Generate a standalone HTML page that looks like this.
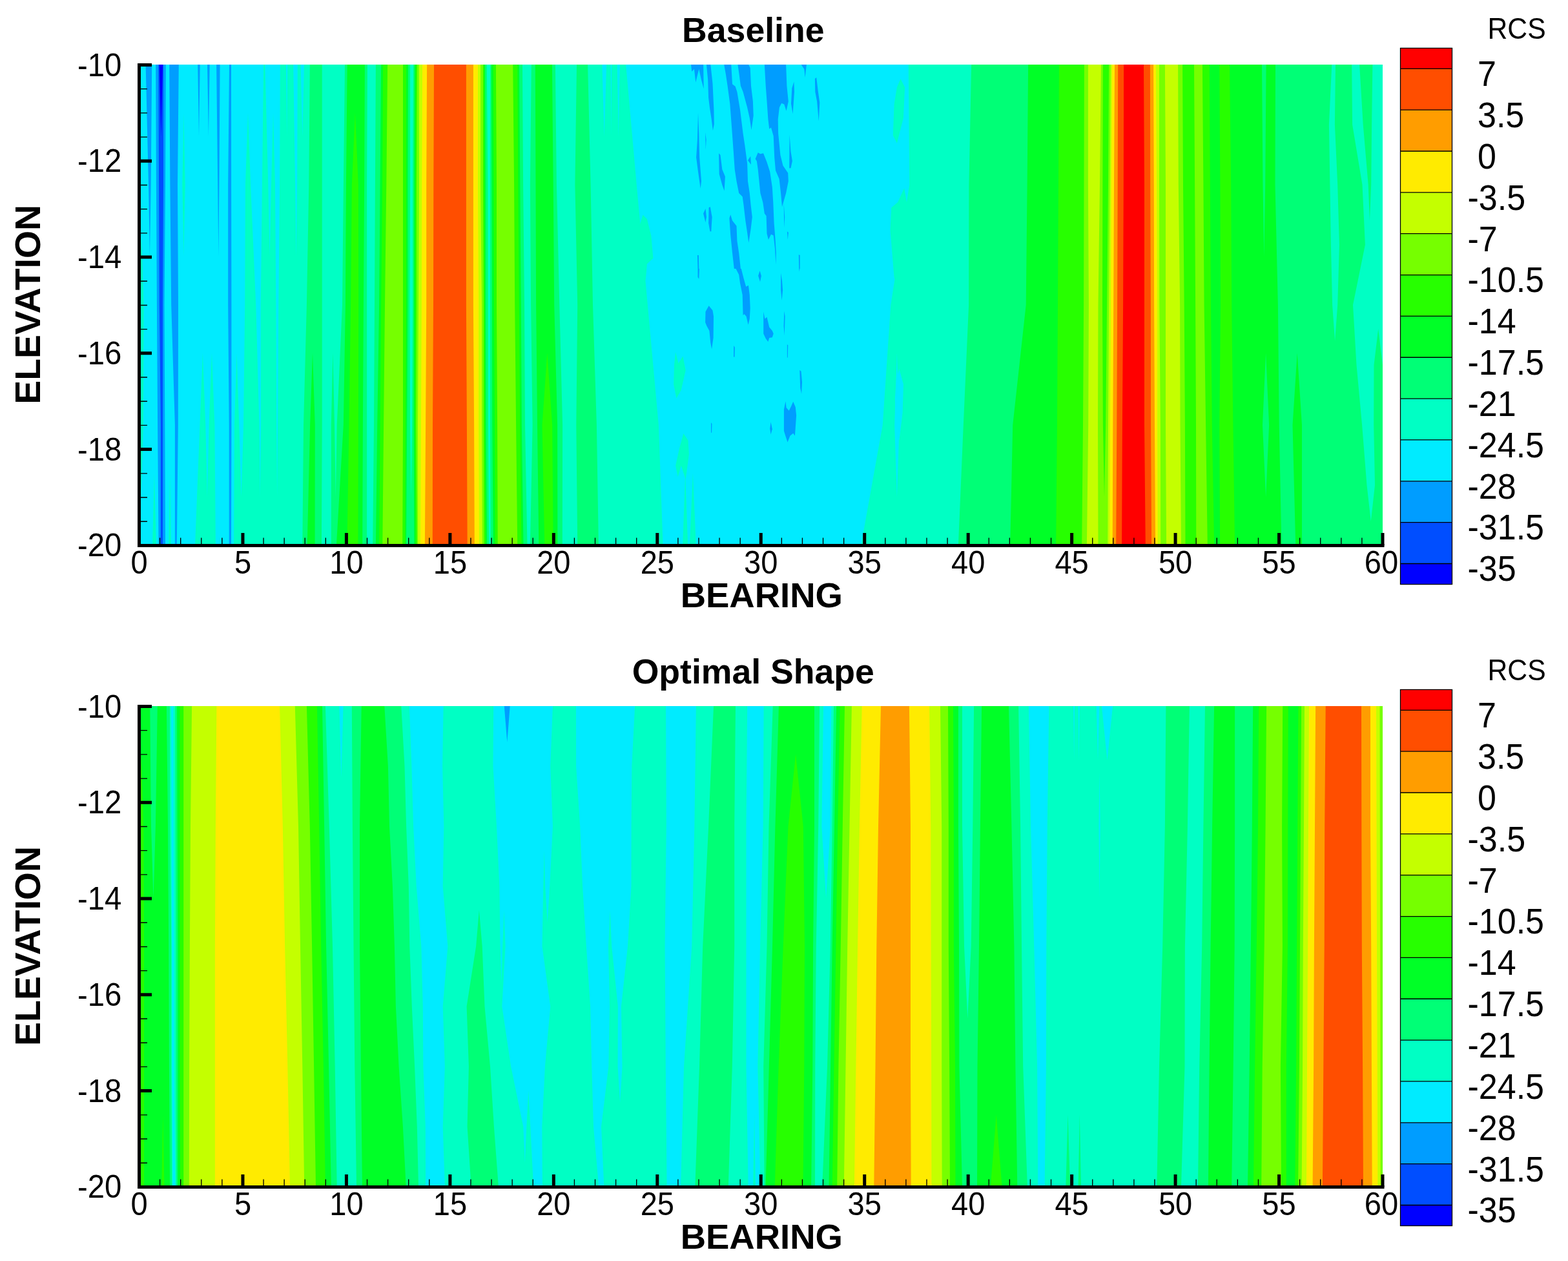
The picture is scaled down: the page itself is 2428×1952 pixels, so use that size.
<!DOCTYPE html>
<html lang="en"><head><meta charset="utf-8"><title>RCS contours: Baseline vs Optimal Shape</title>
<style>
html,body{margin:0;padding:0;background:#fff;}
body{width:2428px;height:1952px;overflow:hidden;}
svg{display:block;}
text{font-family:"Liberation Sans",sans-serif;fill:#000;}
.t{font-size:48.5px;}
.c{font-size:52px;}
.r{font-size:44px;}
.b{font-size:54.5px;font-weight:bold;}
.h{font-size:53.6px;font-weight:bold;}
.e{font-size:55.4px;font-weight:bold;}
</style></head><body>
<svg width="2428" height="1952" viewBox="0 0 2428 1952">
<rect width="2428" height="1952" fill="#fff"/>
<g id="plot1">
<clipPath id="cp0"><rect x="215.5" y="100.0" width="1925.5" height="744.4"/></clipPath>
<g clip-path="url(#cp0)">
<rect x="215.5" y="100.0" width="1925.5" height="744.4" fill="#00ebff"/>
<path fill="#00ffc4" d="M408.1,100.0L410.4,100.0L415.3,286.0L405.9,286.0ZM1406.7,100.0L2141.5,100.0L2141.5,286.0L1408.2,286.0ZM284.5,174.4L286.7,286.0L282.3,286.0ZM384.0,174.4L388.1,286.0L379.9,286.0ZM423.0,174.4L426.0,286.0L420.0,286.0ZM282.3,286.0L286.7,286.0L284.5,397.6ZM379.9,286.0L388.1,286.0L396.3,472.0L379.2,472.0ZM1408.2,286.0L2141.5,286.0L2141.5,472.0L1379.3,472.0ZM219.1,360.4L222.6,472.0L215.5,472.0ZM215.5,472.0L222.6,472.0L221.9,658.0L215.5,658.0ZM379.2,472.0L396.3,472.0L401.5,658.0L377.0,658.0ZM403.7,472.0L427.4,472.0L428.2,658.0L404.1,658.0ZM431.2,472.0L1002.9,472.0L1019.9,658.0L430.1,658.0ZM313.9,546.4L318.3,658.0L309.4,658.0ZM328.0,546.4L332.4,658.0L323.5,658.0ZM366.6,546.4L370.3,658.0L362.9,658.0ZM215.5,658.0L221.9,658.0L218.7,769.6ZM238.9,732.4L241.9,844.0L236.0,844.0ZM263.1,732.4L264.9,844.0L261.2,844.0ZM1061.1,732.4L1065.2,844.0L1057.1,844.0ZM1072.9,732.4L1077.8,844.0L1067.9,844.0Z"/>
<path fill="#00ffc4" fill-rule="evenodd" d="M433.8,100.0L454.2,100.0L457.1,286.0L433.1,286.0ZM443.0,100.0L445.3,100.0L444.1,211.6Z"/>
<path fill="#00ffc4" fill-rule="evenodd" d="M460.8,100.0L969.2,100.0L985.8,286.0L460.1,286.0ZM465.6,100.0L470.9,100.0L468.3,211.6ZM932.4,100.0L939.1,100.0L935.7,211.6ZM945.7,100.0L947.2,100.0L946.5,211.6ZM955.7,100.0L959.8,100.0L957.8,211.6Z"/>
<path fill="#00ffc4" fill-rule="evenodd" d="M405.9,286.0L426.0,286.0L427.4,472.0L403.7,472.0ZM415.3,286.0L420.0,286.0L417.6,397.6Z"/>
<path fill="#00ffc4" fill-rule="evenodd" d="M433.1,286.0L985.8,286.0L1002.9,472.0L431.2,472.0ZM457.1,286.0L460.1,286.0L458.6,397.6Z"/>
<path fill="#00ffc4" fill-rule="evenodd" d="M1379.3,472.0L2141.5,472.0L2141.5,658.0L1366.7,658.0ZM1385.2,658.0L1392.6,658.0L1388.9,546.4Z"/>
<path fill="#00ffc4" fill-rule="evenodd" d="M309.4,658.0L332.4,658.0L333.9,844.0L302.0,844.0ZM318.3,658.0L323.5,658.0L320.9,769.6Z"/>
<path fill="#00ffc4" fill-rule="evenodd" d="M362.9,658.0L1019.9,658.0L1026.6,844.0L362.1,844.0ZM370.3,658.0L377.0,658.0L373.6,769.6ZM401.5,658.0L404.1,658.0L402.8,769.6ZM428.2,658.0L430.1,658.0L429.1,769.6Z"/>
<path fill="#00ffc4" fill-rule="evenodd" d="M1366.7,658.0L2141.5,658.0L2141.5,844.0L1333.3,844.0ZM1385.2,658.0L1392.6,658.0L1388.9,769.6Z"/>
<path fill="#00ff76" d="M479.8,100.0L498.7,100.0L498.7,286.0L478.3,286.0ZM534.0,100.0L568.9,100.0L568.1,286.0L531.9,286.0ZM581.9,100.0L635.1,100.0L635.1,286.0L580.9,286.0ZM640.1,100.0L753.8,100.0L755.3,286.0L639.1,286.0ZM759.3,100.0L809.0,100.0L810.1,286.0L759.0,286.0ZM822.8,100.0L859.9,100.0L861.9,286.0L820.9,286.0ZM893.0,100.0L910.1,100.0L914.6,286.0L890.4,286.0ZM1504.1,100.0L2062.3,100.0L2059.4,286.0L1500.4,286.0ZM478.3,286.0L498.7,286.0L498.7,472.0L474.9,472.0ZM531.9,286.0L568.1,286.0L568.1,472.0L530.0,472.0ZM580.9,286.0L635.1,286.0L634.3,472.0L580.0,472.0ZM639.1,286.0L755.3,286.0L755.6,472.0L639.1,472.0ZM759.0,286.0L810.1,286.0L812.0,472.0L759.0,472.0ZM820.9,286.0L861.9,286.0L866.3,472.0L822.1,472.0ZM890.4,286.0L914.6,286.0L918.0,472.0L894.2,472.0ZM1500.4,286.0L2059.4,286.0L2063.1,472.0L1500.1,472.0ZM2071.2,286.0L2109.5,286.0L2095.0,472.0L2071.2,472.0ZM2118.7,286.0L2123.2,286.0L2120.9,397.6ZM474.9,472.0L498.7,472.0L498.7,658.0L470.0,658.0ZM530.0,472.0L568.1,472.0L568.1,658.0L521.7,658.0ZM580.0,472.0L634.3,472.0L635.1,658.0L579.0,658.0ZM639.1,472.0L755.6,472.0L756.0,658.0L638.1,658.0ZM759.0,472.0L812.0,472.0L813.0,658.0L759.0,658.0ZM822.1,472.0L866.3,472.0L871.1,658.0L824.6,658.0ZM894.2,472.0L918.0,472.0L923.9,658.0L892.3,658.0ZM515.4,546.4L518.0,658.0L512.8,658.0ZM2134.3,546.4L2141.5,658.0L2127.2,658.0ZM470.0,658.0L498.7,658.0L497.9,844.0L468.3,844.0ZM759.0,658.0L813.0,658.0L816.5,844.0L759.8,844.0ZM824.6,658.0L871.1,658.0L870.8,844.0L820.9,844.0ZM892.3,658.0L923.9,658.0L926.9,844.0L894.2,844.0Z"/>
<path fill="#00ff76" fill-rule="evenodd" d="M2068.0,100.0L2125.4,100.0L2123.2,286.0L2071.2,286.0ZM2093.2,100.0L2105.1,100.0L2099.1,183.7ZM2109.5,286.0L2118.7,286.0L2114.1,202.3Z"/>
<path fill="#00ff76" fill-rule="evenodd" d="M1500.1,472.0L2095.0,472.0L2109.1,658.0L1491.8,658.0ZM2063.1,472.0L2071.2,472.0L2067.1,583.6Z"/>
<path fill="#00ff76" fill-rule="evenodd" d="M512.8,658.0L568.1,658.0L568.1,844.0L512.8,844.0ZM518.0,658.0L521.7,658.0L519.8,769.6Z"/>
<path fill="#00ff76" fill-rule="evenodd" d="M579.0,658.0L756.0,658.0L757.1,844.0L577.2,844.0ZM635.1,658.0L638.1,658.0L636.6,769.6Z"/>
<path fill="#00ff76" fill-rule="evenodd" d="M1491.8,658.0L2141.5,658.0L2141.5,844.0L1483.9,844.0ZM2109.1,658.0L2127.2,658.0L2118.1,769.6Z"/>
<path fill="#00ff27" d="M537.7,100.0L564.9,100.0L564.1,286.0L535.9,286.0ZM590.1,100.0L632.1,100.0L631.4,286.0L588.6,286.0ZM642.1,100.0L751.2,100.0L751.9,286.0L641.3,286.0ZM760.8,100.0L804.0,100.0L805.3,286.0L761.5,286.0ZM828.8,100.0L854.9,100.0L856.7,286.0L829.5,286.0ZM1592.1,100.0L1954.0,100.0L1955.5,286.0L1590.6,286.0ZM1960.6,100.0L1975.0,100.0L1974.5,286.0L1959.2,286.0ZM535.9,286.0L564.1,286.0L562.9,472.0L534.9,472.0ZM588.6,286.0L631.4,286.0L631.4,472.0L587.1,472.0ZM641.3,286.0L751.9,286.0L751.9,472.0L641.0,472.0ZM761.5,286.0L805.3,286.0L806.8,472.0L762.0,472.0ZM829.5,286.0L856.7,286.0L858.2,472.0L830.1,472.0ZM534.9,472.0L562.9,472.0L561.9,658.0L531.8,658.0ZM587.1,472.0L631.4,472.0L630.2,658.0L584.2,658.0ZM641.0,472.0L751.9,472.0L752.6,658.0L640.6,658.0ZM762.0,472.0L806.8,472.0L807.8,658.0L762.3,658.0ZM830.1,472.0L858.2,472.0L863.1,658.0L832.0,658.0ZM484.0,546.4L487.8,658.0L480.1,658.0ZM2008.7,546.4L2016.0,658.0L2001.5,658.0ZM480.1,658.0L487.8,658.0L487.6,844.0L475.7,844.0ZM531.8,658.0L561.9,658.0L561.2,844.0L520.9,844.0ZM584.2,658.0L630.2,658.0L629.1,844.0L581.9,844.0ZM640.6,658.0L752.6,658.0L754.1,844.0L641.3,844.0ZM762.3,658.0L807.8,658.0L810.5,844.0L763.8,844.0ZM832.0,658.0L863.1,658.0L863.4,844.0L834.3,844.0ZM2001.5,658.0L2016.0,658.0L2016.0,844.0L2006.2,844.0Z"/>
<path fill="#00ff27" fill-rule="evenodd" d="M1590.6,286.0L1974.5,286.0L1978.9,472.0L1588.7,472.0ZM1955.5,286.0L1959.2,286.0L1957.3,397.6Z"/>
<path fill="#00ff27" fill-rule="evenodd" d="M1588.7,472.0L1978.9,472.0L1980.7,658.0L1568.2,658.0ZM1955.0,658.0L1965.1,658.0L1960.1,546.4Z"/>
<path fill="#00ff27" fill-rule="evenodd" d="M1568.2,658.0L1980.7,658.0L1984.4,844.0L1564.2,844.0ZM1955.0,658.0L1965.1,658.0L1960.1,769.6Z"/>
<path fill="#27ff00" d="M593.1,100.0L629.1,100.0L629.1,286.0L592.0,286.0ZM644.0,100.0L749.7,100.0L750.0,286.0L643.1,286.0ZM763.8,100.0L801.3,100.0L802.4,286.0L764.5,286.0ZM1639.9,100.0L1872.8,100.0L1873.8,286.0L1638.9,286.0ZM1888.2,100.0L1904.0,100.0L1906.2,286.0L1889.4,286.0ZM549.9,174.4L554.9,286.0L544.8,286.0ZM544.8,286.0L554.9,286.0L555.2,472.0L543.1,472.0ZM592.0,286.0L629.1,286.0L629.1,472.0L590.1,472.0ZM643.1,286.0L750.0,286.0L750.4,472.0L642.8,472.0ZM764.5,286.0L802.4,286.0L803.8,472.0L765.0,472.0ZM1638.9,286.0L1873.8,286.0L1875.0,472.0L1638.0,472.0ZM1889.4,286.0L1906.2,286.0L1907.2,472.0L1890.1,472.0ZM543.1,472.0L555.2,472.0L554.9,658.0L540.4,658.0ZM590.1,472.0L629.1,472.0L628.0,658.0L588.6,658.0ZM642.8,472.0L750.4,472.0L750.7,658.0L642.4,658.0ZM765.0,472.0L803.8,472.0L805.3,658.0L766.0,658.0ZM1638.0,472.0L1875.0,472.0L1876.8,658.0L1636.9,658.0ZM1890.1,472.0L1907.2,472.0L1909.4,658.0L1888.2,658.0ZM847.3,546.4L855.2,658.0L839.5,658.0ZM540.4,658.0L554.9,658.0L554.5,844.0L537.4,844.0ZM588.6,658.0L628.0,658.0L627.2,844.0L587.1,844.0ZM642.4,658.0L750.7,658.0L751.9,844.0L643.5,844.0ZM766.0,658.0L805.3,658.0L807.6,844.0L766.7,844.0ZM839.5,658.0L855.2,658.0L856.7,844.0L843.2,844.0ZM1636.9,658.0L1876.8,658.0L1880.1,844.0L1635.2,844.0ZM1888.2,658.0L1909.4,658.0L1912.1,844.0L1889.1,844.0Z"/>
<path fill="#76ff00" d="M600.1,100.0L624.0,100.0L624.0,286.0L598.3,286.0ZM646.1,100.0L747.9,100.0L747.9,286.0L645.0,286.0ZM767.9,100.0L794.2,100.0L796.1,286.0L769.0,286.0ZM1678.9,100.0L1707.9,100.0L1707.4,286.0L1678.5,286.0ZM1717.1,100.0L1831.1,100.0L1832.0,286.0L1716.0,286.0ZM1849.0,100.0L1861.9,100.0L1863.4,286.0L1850.1,286.0ZM598.3,286.0L624.0,286.0L624.0,472.0L596.0,472.0ZM645.0,286.0L747.9,286.0L748.9,472.0L645.0,472.0ZM769.0,286.0L796.1,286.0L797.2,472.0L769.0,472.0ZM1678.5,286.0L1707.4,286.0L1707.0,472.0L1678.1,472.0ZM1716.0,286.0L1832.0,286.0L1833.7,472.0L1714.1,472.0ZM1850.1,286.0L1863.4,286.0L1864.6,472.0L1851.1,472.0ZM596.0,472.0L624.0,472.0L624.0,658.0L594.1,658.0ZM645.0,472.0L748.9,472.0L748.9,658.0L644.3,658.0ZM769.0,472.0L797.2,472.0L799.1,658.0L770.1,658.0ZM1678.1,472.0L1707.0,472.0L1707.9,658.0L1677.0,658.0ZM1714.1,472.0L1833.7,472.0L1834.9,658.0L1712.2,658.0ZM1851.1,472.0L1864.6,472.0L1867.1,658.0L1852.0,658.0ZM594.1,658.0L624.0,658.0L623.2,844.0L592.3,844.0ZM644.3,658.0L748.9,658.0L749.7,844.0L645.8,844.0ZM770.1,658.0L799.1,658.0L801.2,844.0L770.7,844.0ZM1852.0,658.0L1867.1,658.0L1869.8,844.0L1852.3,844.0Z"/>
<path fill="#76ff00" fill-rule="evenodd" d="M1677.0,658.0L1834.9,658.0L1835.5,844.0L1675.2,844.0ZM1707.9,658.0L1712.2,658.0L1710.0,769.6Z"/>
<path fill="#c4ff00" d="M649.0,100.0L744.0,100.0L744.0,286.0L649.0,286.0ZM1684.9,100.0L1704.9,100.0L1703.0,286.0L1684.9,286.0ZM1719.8,100.0L1795.0,100.0L1795.0,286.0L1718.6,286.0ZM1803.9,100.0L1824.1,100.0L1824.8,286.0L1805.0,286.0ZM649.0,286.0L744.0,286.0L746.0,472.0L648.0,472.0ZM1684.9,286.0L1703.0,286.0L1700.5,472.0L1685.9,472.0ZM1718.6,286.0L1795.0,286.0L1795.3,472.0L1717.1,472.0ZM1805.0,286.0L1824.8,286.0L1827.1,472.0L1805.0,472.0ZM648.0,472.0L746.0,472.0L746.0,658.0L647.0,658.0ZM1685.9,472.0L1700.5,472.0L1700.0,658.0L1685.2,658.0ZM1717.1,472.0L1795.3,472.0L1796.9,658.0L1716.0,658.0ZM1805.0,472.0L1827.1,472.0L1827.5,658.0L1805.0,658.0ZM647.0,658.0L746.0,658.0L746.7,844.0L647.3,844.0ZM1685.2,658.0L1700.0,658.0L1700.5,844.0L1682.9,844.0ZM1716.0,658.0L1796.9,658.0L1797.2,844.0L1715.3,844.0ZM1805.0,658.0L1827.5,658.0L1829.0,844.0L1806.1,844.0Z"/>
<path fill="#ffeb00" d="M654.1,100.0L740.0,100.0L740.0,286.0L653.2,286.0ZM1722.0,100.0L1789.8,100.0L1791.0,286.0L1720.8,286.0ZM653.2,286.0L740.0,286.0L741.1,472.0L652.9,472.0ZM1720.8,286.0L1791.0,286.0L1792.0,472.0L1720.1,472.0ZM652.9,472.0L741.1,472.0L741.1,658.0L652.0,658.0ZM1720.1,472.0L1792.0,472.0L1792.0,658.0L1719.0,658.0ZM652.0,658.0L741.1,658.0L741.9,844.0L651.0,844.0ZM1719.0,658.0L1792.0,658.0L1792.8,844.0L1718.3,844.0Z"/>
<path fill="#ff9d00" d="M661.1,100.0L732.9,100.0L732.9,286.0L660.2,286.0ZM1726.0,100.0L1786.1,100.0L1786.8,286.0L1725.0,286.0ZM660.2,286.0L732.9,286.0L732.9,472.0L660.2,472.0ZM1725.0,286.0L1786.8,286.0L1787.1,472.0L1724.2,472.0ZM660.2,472.0L732.9,472.0L734.1,658.0L659.1,658.0ZM1724.2,472.0L1787.1,472.0L1788.0,658.0L1723.3,658.0ZM659.1,658.0L734.1,658.0L734.8,844.0L657.9,844.0ZM1723.3,658.0L1788.0,658.0L1789.1,844.0L1722.7,844.0Z"/>
<path fill="#ff4e00" d="M672.0,100.0L721.9,100.0L721.9,286.0L671.3,286.0ZM1731.2,100.0L1780.9,100.0L1781.2,286.0L1730.7,286.0ZM671.3,286.0L721.9,286.0L721.9,472.0L671.0,472.0ZM1730.7,286.0L1781.2,286.0L1781.9,472.0L1730.1,472.0ZM671.0,472.0L721.9,472.0L722.9,658.0L670.0,658.0ZM1730.1,472.0L1781.9,472.0L1782.1,658.0L1729.3,658.0ZM670.0,658.0L722.9,658.0L723.7,844.0L669.8,844.0ZM1729.3,658.0L1782.1,658.0L1783.1,844.0L1728.2,844.0Z"/>
<path fill="#ff0000" d="M1740.1,100.0L1771.0,100.0L1772.0,286.0L1739.8,286.0ZM1739.8,286.0L1772.0,286.0L1772.0,472.0L1739.1,472.0ZM1739.1,472.0L1772.0,472.0L1772.0,658.0L1737.9,658.0ZM1737.9,658.0L1772.0,658.0L1773.8,844.0L1737.1,844.0Z"/>
<path fill="#009dff" d="M225.6,100.0L235.2,100.0L233.7,286.0L230.0,286.0ZM241.2,100.0L256.8,100.0L256.0,286.0L241.9,286.0ZM262.2,100.0L276.8,100.0L275.0,286.0L263.4,286.0ZM306.2,100.0L309.7,100.0L308.0,211.6ZM321.0,100.0L324.7,100.0L322.9,211.6ZM335.1,100.0L340.6,100.0L339.4,286.0L337.2,286.0ZM355.0,100.0L358.0,100.0L358.1,286.0L353.2,286.0ZM230.0,286.0L233.7,286.0L231.9,397.6ZM241.9,286.0L256.0,286.0L254.5,472.0L242.9,472.0ZM263.4,286.0L275.0,286.0L276.0,472.0L265.2,472.0ZM337.2,286.0L339.4,286.0L338.3,397.6ZM353.2,286.0L358.1,286.0L358.4,472.0L353.2,472.0ZM242.9,472.0L254.5,472.0L255.3,658.0L244.1,658.0ZM265.2,472.0L276.0,472.0L275.8,658.0L270.9,658.0ZM353.2,472.0L358.4,472.0L358.4,658.0L354.7,658.0ZM244.1,658.0L255.3,658.0L256.0,844.0L245.6,844.0ZM270.9,658.0L275.8,658.0L273.8,844.0L270.9,844.0ZM354.7,658.0L358.4,658.0L358.0,844.0L354.7,844.0Z"/>
<path fill="#004eff" d="M245.3,100.0L253.0,100.0L253.0,286.0L246.1,286.0ZM246.1,286.0L253.0,286.0L252.0,472.0L246.8,472.0ZM246.8,472.0L252.0,472.0L252.0,658.0L248.9,658.0ZM248.9,658.0L252.0,658.0L252.0,844.0L248.9,844.0Z"/>
<path fill="#0000ff" d="M246.8,100.0L252.0,100.0L249.4,211.6Z"/>
<clipPath id="sg0_0"><rect x="2040" y="100.0" width="101.0" height="744.4"/></clipPath>
<g clip-path="url(#sg0_0)">
<rect x="2040" y="100.0" width="101.0" height="744.4" fill="#00ebff"/>
<path fill="#00ffc4" d="M2040.0,100.0L2141.0,100.0L2141.0,193.0L2040.0,193.0ZM2040.0,193.0L2141.0,193.0L2141.0,286.0L2040.0,286.0ZM2040.0,286.0L2141.0,286.0L2141.0,379.0L2040.0,379.0ZM2040.0,379.0L2141.0,379.0L2141.0,472.0L2040.0,472.0ZM2040.0,472.0L2141.0,472.0L2141.0,565.0L2040.0,565.0ZM2040.0,565.0L2141.0,565.0L2141.0,658.0L2040.0,658.0ZM2040.0,658.0L2141.0,658.0L2141.0,751.0L2040.0,751.0ZM2040.0,751.0L2141.0,751.0L2141.0,844.0L2040.0,844.0Z"/>
<path fill="#00ff76" d="M2040.0,100.0L2062.3,100.0L2057.9,193.0L2040.0,193.0ZM2068.0,100.0L2093.2,100.0L2094.1,193.0L2066.9,193.0ZM2105.1,100.0L2125.4,100.0L2124.1,193.0L2110.7,193.0ZM2040.0,193.0L2057.9,193.0L2059.4,286.0L2040.0,286.0ZM2066.9,193.0L2094.1,193.0L2109.5,286.0L2071.2,286.0ZM2110.7,193.0L2124.1,193.0L2123.2,286.0L2118.7,286.0ZM2040.0,286.0L2059.4,286.0L2060.9,379.0L2040.0,379.0ZM2071.2,286.0L2109.5,286.0L2113.9,379.0L2073.9,379.0ZM2118.7,286.0L2123.2,286.0L2120.9,341.8ZM2040.0,379.0L2060.9,379.0L2063.1,472.0L2040.0,472.0ZM2073.9,379.0L2113.9,379.0L2095.0,472.0L2071.2,472.0ZM2134.2,509.2L2141.0,565.0L2127.5,565.0ZM2040.0,565.0L2100.5,565.0L2109.1,658.0L2040.0,658.0ZM2127.5,565.0L2141.0,565.0L2141.0,658.0L2127.2,658.0ZM2040.0,658.0L2109.1,658.0L2116.5,751.0L2040.0,751.0ZM2127.2,658.0L2141.0,658.0L2141.0,751.0L2129.0,751.0Z"/>
<path fill="#00ff76" fill-rule="evenodd" d="M2040.0,472.0L2095.0,472.0L2100.5,565.0L2040.0,565.0ZM2063.1,472.0L2071.2,472.0L2067.1,527.8Z"/>
<path fill="#00ff76" fill-rule="evenodd" d="M2040.0,751.0L2141.0,751.0L2141.0,844.0L2040.0,844.0ZM2116.5,751.0L2129.0,751.0L2122.8,806.8Z"/>
</g>
<path fill="#009dff" d="M1069.9,99.3L1089.1,99.3L1089.7,137.5L1086.0,123.7L1082.3,107.1L1079.5,118.2L1077.3,127.4L1074.9,107.1L1071.2,110.8Z"/>
<path fill="#009dff" d="M1093.9,99.3L1100.2,99.3L1103.5,129.2L1105.4,169.8L1105.8,192.0L1103.9,202.2L1101.7,184.6L1098.9,166.2L1097.1,151.4L1096.2,123.7Z"/>
<path fill="#009dff" d="M1121.1,99.3L1123.8,114.5L1126.6,132.9L1130.3,160.6L1133.1,197.5L1135.8,234.5L1137.7,262.2L1140.5,280.6L1144.2,299.1L1149.7,304.6L1151.5,317.5L1154.3,341.5L1157.1,360.0L1159.3,375.7L1162.6,354.5L1164.8,336.0L1162.6,317.5L1160.8,299.1L1158.0,280.6L1157.1,252.9L1153.4,225.2L1150.6,206.8L1146.0,169.8L1141.4,142.2L1138.6,133.8L1134.0,130.2L1132.2,99.3Z"/>
<path fill="#009dff" d="M1142.3,99.3L1158.9,99.3L1161.7,105.2L1163.0,132.9L1165.9,156.9L1166.7,179.1L1163.5,201.2L1160.8,182.8L1157.1,166.2L1150.6,142.2L1146.9,132.9L1144.5,114.5Z"/>
<path fill="#009dff" d="M1183.8,99.3L1217.1,99.3L1218.4,132.9L1220.8,156.9L1217.6,171.7L1214.3,161.5L1210.2,159.7L1206.9,166.2L1204.7,184.6L1205.1,206.8L1208.4,240.0L1212.5,256.6L1220.2,267.7L1220.8,280.6L1217.1,299.1L1213.4,312.0L1211.0,320.3L1209.1,299.1L1206.6,276.9L1201.0,264.0L1199.2,243.7L1197.7,210.5L1194.0,197.5L1191.2,199.4L1189.4,184.6L1187.5,156.9L1185.7,132.9Z"/>
<path fill="#009dff" d="M1173.7,236.3L1177.4,238.2L1182.0,237.2L1187.5,251.1L1192.2,265.8L1195.8,289.8L1197.3,313.8L1198.6,345.2L1200.5,369.2L1201.8,391.4L1201.4,409.8L1199.9,384.0L1197.7,364.6L1194.0,362.8L1189.9,371.1L1187.5,361.8L1186.6,334.2L1183.8,330.5L1181.4,313.8L1177.4,299.1L1173.7,262.2L1171.8,249.2L1169.6,245.9Z"/>
<path fill="#009dff" d="M1131.2,332.3L1134.0,341.5L1140.5,349.8L1141.4,372.9L1144.2,391.4L1146.9,415.9L1136.8,415.9L1134.0,391.4L1131.2,363.7L1129.4,337.8Z"/>
<path fill="#009dff" d="M1113.1,237.2L1115.5,240.0L1118.3,262.2L1122.9,273.2L1121.6,295.4L1118.3,286.2L1113.7,269.5Z"/>
<path fill="#009dff" d="M1081.0,174.5L1082.3,206.8L1083.2,243.7L1086.0,280.6L1084.7,291.7L1080.5,262.2L1078.1,243.7L1079.9,216.0Z"/>
<path fill="#009dff" d="M1097.6,321.2L1099.8,320.3L1102.6,336.0L1101.3,358.2L1099.5,358.2L1097.1,345.2Z"/>
<path fill="#009dff" d="M1089.1,330.5L1092.5,323.1L1093.9,336.0L1092.5,344.3Z"/>
<path fill="#009dff" d="M1158.0,248.3L1162.2,241.8L1163.0,254.8Z"/>
<path fill="#009dff" d="M1229.4,126.5L1230.0,142.2L1227.6,176.3L1225.0,160.6L1226.3,136.6Z"/>
<path fill="#009dff" d="M1222.6,208.6L1224.5,234.5L1226.9,249.2L1224.5,260.3L1222.2,260.3Z"/>
<path fill="#009dff" d="M1261.9,121.8L1264.2,120.0L1266.9,142.2L1269.3,158.8L1267.8,187.4L1265.1,156.9L1262.3,142.2Z"/>
<path fill="#009dff" d="M1240.2,99.3L1249.0,99.3L1246.6,120.0L1245.3,107.1Z"/>
<path fill="#009dff" d="M1092.1,204.9L1093.6,216.0L1092.8,231.7Z"/>
<path fill="#009dff" d="M1213.6,313.8L1215.2,336.0L1214.3,352.6Z"/>
<path fill="#009dff" d="M1079.9,395.1L1081.8,395.1L1082.3,415.9L1080.5,415.9Z"/>
<path fill="#009dff" d="M1236.8,394.2L1238.7,395.1L1238.7,415.9L1237.2,415.9Z"/>
<path fill="#009dff" d="M1218.9,358.2L1220.8,360.0L1219.8,371.1Z"/>
<path fill="#009dff" d="M1139.5,416.0L1147.8,416.0L1151.5,430.8L1155.2,443.7L1158.9,441.8L1160.8,456.6L1161.7,476.9L1160.8,493.5L1158.6,502.8L1155.6,489.8L1152.5,486.2L1150.6,488.0L1149.7,456.6L1146.0,438.2L1144.2,425.2Z"/>
<path fill="#009dff" d="M1097.6,473.2L1103.5,480.6L1105.0,489.8L1104.6,523.1L1102.1,540.6L1100.2,530.5L1098.4,512.0L1094.3,504.6L1092.1,499.1L1092.5,482.5Z"/>
<path fill="#009dff" d="M1182.2,482.5L1184.4,493.5L1187.5,490.8L1191.2,506.5L1195.8,512.0L1197.7,516.6L1195.8,522.2L1191.2,523.1L1189.4,529.0L1185.7,524.0L1182.2,516.6Z"/>
<path fill="#009dff" d="M1216.5,621.3L1217.6,631.1L1221.7,635.7L1225.4,628.3L1228.2,621.8L1231.8,630.2L1233.1,643.1L1230.9,674.5L1228.2,670.8L1223.5,674.5L1219.5,684.6L1216.2,674.5L1213.9,667.1L1213.9,633.8Z"/>
<path fill="#009dff" d="M1209.1,422.5L1211.0,434.5L1212.1,449.2L1210.6,464.9L1209.1,449.2Z"/>
<path fill="#009dff" d="M1176.5,419.3L1178.9,427.1L1177.0,436.3L1174.1,427.1Z"/>
<path fill="#009dff" d="M1080.5,416.0L1082.9,416.0L1082.3,431.7L1080.5,428.9Z"/>
<path fill="#009dff" d="M1214.3,481.5L1215.6,489.8L1214.7,519.4L1213.6,504.6Z"/>
<path fill="#009dff" d="M1238.3,572.9L1240.5,574.8L1242.0,591.4L1241.1,609.5L1239.2,600.6Z"/>
<path fill="#009dff" d="M1136.2,535.1L1137.9,537.8L1137.5,552.6L1136.0,552.6Z"/>
<path fill="#009dff" d="M1218.9,533.2L1220.2,534.2L1219.8,553.5L1218.9,553.5Z"/>
<path fill="#009dff" d="M1193.6,653.2L1195.8,664.3L1193.6,672.6L1192.2,663.4Z"/>
<path fill="#009dff" d="M1101.0,654.2L1102.4,656.0L1102.1,669.8L1101.0,669.8Z"/>
<path fill="#009dff" d="M1237.2,416.0L1238.3,416.0L1237.9,420.6Z"/>
<path fill="#00ffc4" d="M995.4,332.5L1001.9,339.0L1008.4,365.0L1011.4,399.7L1001.9,408.4L999.7,434.4L993.2,417.1L989.7,378.0L991.0,347.7Z"/>
<path fill="#00ffc4" d="M1046.1,545.1L1050.5,562.4L1057.4,551.6L1061.7,573.3L1054.8,603.7L1047.4,616.7L1043.1,595.0L1044.0,564.6Z"/>
<path fill="#00ffc4" d="M1058.3,670.9L1065.6,681.8L1066.9,703.5L1061.7,742.5L1054.8,720.8L1049.6,738.2L1046.1,720.8L1051.8,694.8Z"/>
<path fill="#00ffc4" d="M1394.5,122.0L1401.1,135.1L1398.9,182.8L1388.9,221.8L1382.8,209.7L1384.6,161.1L1388.9,135.1Z"/>
<path fill="#00ffc4" d="M1400.2,291.3L1405.4,321.6L1401.9,349.8L1397.6,399.7L1392.4,447.5L1384.6,430.1L1378.5,356.3L1380.2,321.6L1390.2,312.9Z"/>
<path fill="#00ebff" d="M1392.4,571.1L1398.9,595.0L1397.6,638.4L1392.4,681.8L1387.2,660.1L1385.9,616.7L1388.0,586.3Z"/>
</g>
<path d="M215.5,98.0V846.9" stroke="#000" stroke-width="5" fill="none"/>
<path d="M213.0,844.4H2143.5" stroke="#000" stroke-width="5" fill="none"/>
<path d="M215.5,100.50h19.5M215.5,249.28h19.5M215.5,398.06h19.5M215.5,546.84h19.5M215.5,695.62h19.5M215.5,844.40h19.5M215.50,844.4v-19.5M375.96,844.4v-19.5M536.42,844.4v-19.5M696.88,844.4v-19.5M857.33,844.4v-19.5M1017.79,844.4v-19.5M1178.25,844.4v-19.5M1338.71,844.4v-19.5M1499.17,844.4v-19.5M1659.62,844.4v-19.5M1820.08,844.4v-19.5M1980.54,844.4v-19.5M2141.00,844.4v-19.5" stroke="#000" stroke-width="5" fill="none"/>
<path d="M215.5,137.69h12.5M215.5,174.89h12.5M215.5,212.08h12.5M215.5,286.48h12.5M215.5,323.67h12.5M215.5,360.87h12.5M215.5,435.25h12.5M215.5,472.45h12.5M215.5,509.64h12.5M215.5,584.03h12.5M215.5,621.23h12.5M215.5,658.42h12.5M215.5,732.81h12.5M215.5,770.01h12.5M215.5,807.21h12.5M247.59,844.4v-12M279.68,844.4v-12M311.77,844.4v-12M343.87,844.4v-12M408.05,844.4v-12M440.14,844.4v-12M472.23,844.4v-12M504.32,844.4v-12M568.51,844.4v-12M600.60,844.4v-12M632.69,844.4v-12M664.78,844.4v-12M728.97,844.4v-12M761.06,844.4v-12M793.15,844.4v-12M825.24,844.4v-12M889.42,844.4v-12M921.52,844.4v-12M953.61,844.4v-12M985.70,844.4v-12M1049.88,844.4v-12M1081.97,844.4v-12M1114.07,844.4v-12M1146.16,844.4v-12M1210.34,844.4v-12M1242.43,844.4v-12M1274.53,844.4v-12M1306.62,844.4v-12M1370.80,844.4v-12M1402.89,844.4v-12M1434.98,844.4v-12M1467.08,844.4v-12M1531.26,844.4v-12M1563.35,844.4v-12M1595.44,844.4v-12M1627.53,844.4v-12M1691.72,844.4v-12M1723.81,844.4v-12M1755.90,844.4v-12M1787.99,844.4v-12M1852.17,844.4v-12M1884.27,844.4v-12M1916.36,844.4v-12M1948.45,844.4v-12M2012.63,844.4v-12M2044.72,844.4v-12M2076.82,844.4v-12M2108.91,844.4v-12" stroke="#000" stroke-width="1.35" fill="none"/>
<text class="t" transform="translate(188.3,117.5) scale(0.975,1.04)" text-anchor="end">-10</text>
<text class="t" transform="translate(188.3,266.3) scale(0.975,1.04)" text-anchor="end">-12</text>
<text class="t" transform="translate(188.3,415.1) scale(0.975,1.04)" text-anchor="end">-14</text>
<text class="t" transform="translate(188.3,563.8) scale(0.975,1.04)" text-anchor="end">-16</text>
<text class="t" transform="translate(188.3,712.6) scale(0.975,1.04)" text-anchor="end">-18</text>
<text class="t" transform="translate(188.3,861.4) scale(0.975,1.04)" text-anchor="end">-20</text>
<text class="t" transform="translate(215.5,887.8) scale(0.97,1.04)" text-anchor="middle">0</text>
<text class="t" transform="translate(376.0,887.8) scale(0.97,1.04)" text-anchor="middle">5</text>
<text class="t" transform="translate(536.4,887.8) scale(0.97,1.04)" text-anchor="middle">10</text>
<text class="t" transform="translate(696.9,887.8) scale(0.97,1.04)" text-anchor="middle">15</text>
<text class="t" transform="translate(857.3,887.8) scale(0.97,1.04)" text-anchor="middle">20</text>
<text class="t" transform="translate(1017.8,887.8) scale(0.97,1.04)" text-anchor="middle">25</text>
<text class="t" transform="translate(1178.2,887.8) scale(0.97,1.04)" text-anchor="middle">30</text>
<text class="t" transform="translate(1338.7,887.8) scale(0.97,1.04)" text-anchor="middle">35</text>
<text class="t" transform="translate(1499.2,887.8) scale(0.97,1.04)" text-anchor="middle">40</text>
<text class="t" transform="translate(1659.6,887.8) scale(0.97,1.04)" text-anchor="middle">45</text>
<text class="t" transform="translate(1820.1,887.8) scale(0.97,1.04)" text-anchor="middle">50</text>
<text class="t" transform="translate(1980.5,887.8) scale(0.97,1.04)" text-anchor="middle">55</text>
<text class="t" transform="translate(2139.0,887.8) scale(0.97,1.04)" text-anchor="middle">60</text>
<text class="b" transform="translate(1179.3,940.2) scale(1.0,1.0)" text-anchor="middle">BEARING</text>
<text class="e" transform="translate(62.3,471.4) rotate(-90)" text-anchor="middle">ELEVATION</text>
<text class="h" transform="translate(1166.3,65.3) scale(1.0,1.0)" text-anchor="middle">Baseline</text>
<rect x="2168.5" y="74.50" width="80.0" height="31.80" fill="#ff0000"/>
<rect x="2168.5" y="106.30" width="80.0" height="63.85" fill="#ff4e00"/>
<rect x="2168.5" y="170.15" width="80.0" height="63.85" fill="#ff9d00"/>
<rect x="2168.5" y="234.00" width="80.0" height="63.85" fill="#ffeb00"/>
<rect x="2168.5" y="297.85" width="80.0" height="63.85" fill="#c4ff00"/>
<rect x="2168.5" y="361.70" width="80.0" height="63.85" fill="#76ff00"/>
<rect x="2168.5" y="425.55" width="80.0" height="63.85" fill="#27ff00"/>
<rect x="2168.5" y="489.40" width="80.0" height="63.85" fill="#00ff27"/>
<rect x="2168.5" y="553.25" width="80.0" height="63.85" fill="#00ff76"/>
<rect x="2168.5" y="617.10" width="80.0" height="63.85" fill="#00ffc4"/>
<rect x="2168.5" y="680.95" width="80.0" height="63.85" fill="#00ebff"/>
<rect x="2168.5" y="744.80" width="80.0" height="63.85" fill="#009dff"/>
<rect x="2168.5" y="808.65" width="80.0" height="63.85" fill="#004eff"/>
<rect x="2168.5" y="872.50" width="80.0" height="32.00" fill="#0000ff"/>
<path d="M2168.5,106.30H2248.5M2168.5,170.15H2248.5M2168.5,234.00H2248.5M2168.5,297.85H2248.5M2168.5,361.70H2248.5M2168.5,425.55H2248.5M2168.5,489.40H2248.5M2168.5,553.25H2248.5M2168.5,617.10H2248.5M2168.5,680.95H2248.5M2168.5,744.80H2248.5M2168.5,808.65H2248.5M2168.5,872.50H2248.5" stroke="#000" stroke-width="1.3" fill="none"/>
<rect x="2168.5" y="74.50" width="80.0" height="830.00" fill="none" stroke="#000" stroke-width="1.3"/>
<text class="c" transform="translate(2288.0,133.1) scale(1.0,1.05)" text-anchor="start">7</text>
<text class="c" transform="translate(2288.0,197.0) scale(1.0,1.05)" text-anchor="start">3.5</text>
<text class="c" transform="translate(2288.0,260.8) scale(1.0,1.05)" text-anchor="start">0</text>
<text class="c" transform="translate(2272.5,324.7) scale(1.0,1.05)" text-anchor="start">-3.5</text>
<text class="c" transform="translate(2272.5,388.5) scale(1.0,1.05)" text-anchor="start">-7</text>
<text class="c" transform="translate(2272.5,452.4) scale(1.0,1.05)" text-anchor="start">-10.5</text>
<text class="c" transform="translate(2272.5,516.2) scale(1.0,1.05)" text-anchor="start">-14</text>
<text class="c" transform="translate(2272.5,580.0) scale(1.0,1.05)" text-anchor="start">-17.5</text>
<text class="c" transform="translate(2272.5,643.9) scale(1.0,1.05)" text-anchor="start">-21</text>
<text class="c" transform="translate(2272.5,707.7) scale(1.0,1.05)" text-anchor="start">-24.5</text>
<text class="c" transform="translate(2272.5,771.6) scale(1.0,1.05)" text-anchor="start">-28</text>
<text class="c" transform="translate(2272.5,835.4) scale(1.0,1.05)" text-anchor="start">-31.5</text>
<text class="c" transform="translate(2272.5,899.3) scale(1.0,1.05)" text-anchor="start">-35</text>
<text class="r" transform="translate(2303.5,59.9) scale(0.97,1.05)" text-anchor="start">RCS</text>
</g>
<g id="plot2">
<clipPath id="cp1"><rect x="215.5" y="1093.0" width="1925.5" height="744.4000000000001"/></clipPath>
<g clip-path="url(#cp1)">
<rect x="215.5" y="1093.0" width="1925.5" height="744.4000000000001" fill="#00ebff"/>
<path fill="#00ffc4" d="M215.5,1093.0L265.2,1093.0L265.7,1279.0L215.5,1279.0ZM686.6,1093.0L764.2,1093.0L769.0,1279.0L687.3,1279.0ZM855.9,1093.0L892.0,1093.0L898.2,1279.0L855.9,1279.0ZM983.1,1093.0L1031.1,1093.0L1031.8,1279.0L977.6,1279.0ZM1077.8,1093.0L1157.2,1093.0L1155.5,1279.0L1075.3,1279.0ZM1182.6,1093.0L1275.1,1093.0L1272.4,1279.0L1181.6,1279.0ZM1287.3,1093.0L1592.9,1093.0L1596.1,1279.0L1285.8,1279.0ZM215.5,1279.0L265.7,1279.0L266.4,1465.0L215.5,1465.0ZM268.6,1279.0L640.1,1279.0L652.4,1465.0L269.4,1465.0ZM687.3,1279.0L769.0,1279.0L774.6,1465.0L693.3,1465.0ZM855.9,1279.0L898.2,1279.0L907.9,1465.0L839.5,1465.0ZM977.6,1279.0L1031.8,1279.0L1029.6,1465.0L972.0,1465.0ZM1075.3,1279.0L1155.5,1279.0L1155.5,1465.0L1071.2,1465.0ZM780.4,1353.4L782.6,1465.0L778.2,1465.0ZM944.6,1353.4L947.2,1465.0L942.0,1465.0ZM215.5,1465.0L266.4,1465.0L266.4,1651.0L215.5,1651.0ZM269.4,1465.0L652.4,1465.0L655.4,1651.0L269.4,1651.0ZM839.5,1465.0L907.9,1465.0L916.3,1651.0L843.9,1651.0ZM942.0,1465.0L947.2,1465.0L956.6,1651.0L942.3,1651.0ZM972.0,1465.0L1029.6,1465.0L1030.8,1651.0L963.5,1651.0ZM1071.2,1465.0L1155.5,1465.0L1155.5,1651.0L1059.0,1651.0ZM1177.0,1465.0L1601.3,1465.0L1606.1,1651.0L1173.3,1651.0ZM1620.3,1465.0L2141.5,1465.0L2141.5,1651.0L1619.9,1651.0ZM215.5,1651.0L266.4,1651.0L267.6,1837.0L215.5,1837.0ZM269.4,1651.0L655.4,1651.0L659.1,1837.0L271.2,1837.0ZM688.8,1651.0L791.2,1651.0L826.1,1837.0L688.8,1837.0ZM843.9,1651.0L916.3,1651.0L927.2,1837.0L839.9,1837.0ZM1059.0,1651.0L1155.5,1651.0L1158.7,1837.0L1054.1,1837.0ZM1173.3,1651.0L1606.1,1651.0L1607.3,1837.0L1177.4,1837.0ZM1619.9,1651.0L2141.5,1651.0L2141.5,1837.0L1617.6,1837.0ZM1168.1,1725.4L1170.0,1837.0L1166.1,1837.0Z"/>
<path fill="#00ffc4" fill-rule="evenodd" d="M268.2,1093.0L633.9,1093.0L640.1,1279.0L268.6,1279.0ZM525.4,1093.0L531.5,1093.0L528.4,1204.6Z"/>
<path fill="#00ffc4" fill-rule="evenodd" d="M1624.3,1093.0L2141.5,1093.0L2141.5,1279.0L1621.7,1279.0ZM1662.2,1093.0L1664.0,1093.0L1663.1,1176.7ZM1669.6,1093.0L1671.8,1093.0L1670.7,1176.7ZM1697.8,1093.0L1702.2,1093.0L1700.0,1176.7ZM1706.0,1093.0L1723.0,1093.0L1714.5,1176.7ZM1701.5,1279.0L1703.7,1279.0L1702.6,1195.3Z"/>
<path fill="#00ffc4" fill-rule="evenodd" d="M1181.6,1279.0L1596.1,1279.0L1601.3,1465.0L1177.0,1465.0ZM1272.4,1279.0L1285.8,1279.0L1279.1,1390.6Z"/>
<path fill="#00ffc4" fill-rule="evenodd" d="M1621.7,1279.0L2141.5,1279.0L2141.5,1465.0L1620.3,1465.0ZM1701.5,1279.0L1703.7,1279.0L1702.6,1390.6Z"/>
<path fill="#00ffc4" fill-rule="evenodd" d="M693.3,1465.0L782.6,1465.0L791.2,1651.0L688.8,1651.0ZM774.6,1465.0L778.2,1465.0L776.4,1576.6Z"/>
<path fill="#00ffc4" fill-rule="evenodd" d="M942.3,1651.0L1030.8,1651.0L1032.6,1837.0L935.3,1837.0ZM956.6,1651.0L963.5,1651.0L960.1,1762.6Z"/>
<path fill="#00ff76" d="M215.5,1093.0L263.0,1093.0L263.4,1279.0L215.5,1279.0ZM271.2,1093.0L503.9,1093.0L509.8,1279.0L271.6,1279.0ZM544.8,1093.0L621.3,1093.0L629.1,1279.0L545.9,1279.0ZM1105.0,1093.0L1139.0,1093.0L1137.2,1279.0L1097.1,1279.0ZM1196.7,1093.0L1269.1,1093.0L1267.2,1279.0L1190.5,1279.0ZM1291.0,1093.0L1490.0,1093.0L1490.0,1279.0L1288.7,1279.0ZM1508.1,1093.0L1577.1,1093.0L1580.1,1279.0L1506.3,1279.0ZM1805.4,1093.0L1841.9,1093.0L1838.9,1279.0L1803.9,1279.0ZM1866.0,1093.0L2141.5,1093.0L2141.5,1279.0L1863.4,1279.0ZM215.5,1279.0L263.4,1279.0L265.2,1465.0L215.5,1465.0ZM271.6,1279.0L509.8,1279.0L515.0,1465.0L272.3,1465.0ZM545.9,1279.0L629.1,1279.0L634.3,1465.0L547.5,1465.0ZM1097.1,1279.0L1137.2,1279.0L1137.2,1465.0L1088.2,1465.0ZM1190.5,1279.0L1267.2,1279.0L1263.8,1465.0L1187.5,1465.0ZM1288.7,1279.0L1490.0,1279.0L1493.0,1465.0L1285.8,1465.0ZM1506.3,1279.0L1580.1,1279.0L1582.0,1465.0L1503.7,1465.0ZM1803.9,1279.0L1838.9,1279.0L1834.9,1465.0L1800.2,1465.0ZM1863.4,1279.0L2141.5,1279.0L2141.5,1465.0L1861.2,1465.0ZM741.9,1353.4L746.7,1465.0L737.1,1465.0ZM215.5,1465.0L265.2,1465.0L265.2,1651.0L215.5,1651.0ZM272.3,1465.0L515.0,1465.0L518.7,1651.0L272.3,1651.0ZM547.5,1465.0L634.3,1465.0L642.1,1651.0L549.3,1651.0ZM737.1,1465.0L746.7,1465.0L759.0,1651.0L725.9,1651.0ZM1088.2,1465.0L1137.2,1465.0L1133.8,1651.0L1083.0,1651.0ZM1187.5,1465.0L1263.8,1465.0L1262.3,1651.0L1182.2,1651.0ZM1800.2,1465.0L1834.9,1465.0L1834.5,1651.0L1795.0,1651.0ZM1861.2,1465.0L2141.5,1465.0L2141.5,1651.0L1857.2,1651.0ZM215.5,1651.0L265.2,1651.0L266.1,1837.0L215.5,1837.0ZM272.3,1651.0L518.7,1651.0L521.7,1837.0L273.1,1837.0ZM549.3,1651.0L642.1,1651.0L648.0,1837.0L552.0,1837.0ZM725.9,1651.0L759.0,1651.0L771.9,1837.0L729.6,1837.0ZM1083.0,1651.0L1133.8,1651.0L1127.8,1837.0L1076.3,1837.0ZM1182.2,1651.0L1262.3,1651.0L1262.0,1837.0L1183.7,1837.0ZM1281.0,1651.0L1584.2,1651.0L1590.9,1837.0L1273.2,1837.0ZM1795.0,1651.0L1834.5,1651.0L1829.0,1837.0L1791.3,1837.0ZM1857.2,1651.0L2141.5,1651.0L2141.5,1837.0L1855.0,1837.0ZM1653.6,1725.4L1657.0,1837.0L1650.3,1837.0ZM1671.8,1725.4L1674.0,1837.0L1669.6,1837.0Z"/>
<path fill="#00ff76" fill-rule="evenodd" d="M1285.8,1465.0L1582.0,1465.0L1584.2,1651.0L1281.0,1651.0ZM1493.0,1465.0L1503.7,1465.0L1498.3,1576.6Z"/>
<path fill="#00ff27" d="M215.5,1093.0L232.3,1093.0L234.0,1279.0L215.5,1279.0ZM243.8,1093.0L257.9,1093.0L260.0,1279.0L240.9,1279.0ZM274.1,1093.0L499.0,1093.0L502.1,1279.0L274.6,1279.0ZM559.7,1093.0L595.3,1093.0L603.0,1279.0L557.0,1279.0ZM1205.9,1093.0L1261.0,1093.0L1261.0,1279.0L1200.4,1279.0ZM1295.1,1093.0L1483.9,1093.0L1483.9,1279.0L1292.0,1279.0ZM1520.1,1093.0L1562.0,1093.0L1566.4,1279.0L1517.9,1279.0ZM1880.1,1093.0L1912.1,1093.0L1912.1,1279.0L1877.1,1279.0ZM1940.2,1093.0L2141.5,1093.0L2141.5,1279.0L1938.8,1279.0ZM274.6,1279.0L502.1,1279.0L505.1,1465.0L275.3,1465.0ZM557.0,1279.0L603.0,1279.0L610.9,1465.0L557.0,1465.0ZM1200.4,1279.0L1261.0,1279.0L1259.1,1465.0L1196.0,1465.0ZM1292.0,1279.0L1483.9,1279.0L1485.0,1465.0L1288.7,1465.0ZM1517.9,1279.0L1566.4,1279.0L1570.4,1465.0L1516.0,1465.0ZM1877.1,1279.0L1912.1,1279.0L1911.7,1465.0L1874.6,1465.0ZM1938.8,1279.0L2141.5,1279.0L2141.5,1465.0L1936.9,1465.0ZM215.5,1465.0L261.2,1465.0L261.9,1651.0L215.5,1651.0ZM275.3,1465.0L505.1,1465.0L509.1,1651.0L275.3,1651.0ZM557.0,1465.0L610.9,1465.0L617.6,1651.0L558.9,1651.0ZM1196.0,1465.0L1259.1,1465.0L1258.3,1651.0L1190.8,1651.0ZM1288.7,1465.0L1485.0,1465.0L1485.4,1651.0L1286.1,1651.0ZM1516.0,1465.0L1570.4,1465.0L1572.4,1651.0L1513.5,1651.0ZM1874.6,1465.0L1911.7,1465.0L1909.7,1651.0L1872.6,1651.0ZM1936.9,1465.0L2141.5,1465.0L2141.5,1651.0L1934.7,1651.0ZM215.5,1651.0L261.9,1651.0L263.1,1837.0L215.5,1837.0ZM275.3,1651.0L509.1,1651.0L512.8,1837.0L275.3,1837.0ZM558.9,1651.0L617.6,1651.0L628.7,1837.0L560.9,1837.0ZM1190.8,1651.0L1258.3,1651.0L1256.1,1837.0L1185.6,1837.0ZM1286.1,1651.0L1485.4,1651.0L1490.0,1837.0L1283.5,1837.0ZM1513.5,1651.0L1572.4,1651.0L1575.3,1837.0L1513.0,1837.0ZM1872.6,1651.0L1909.7,1651.0L1907.2,1837.0L1870.9,1837.0ZM1934.7,1651.0L2141.5,1651.0L2141.5,1837.0L1932.0,1837.0Z"/>
<path fill="#00ff27" fill-rule="evenodd" d="M215.5,1279.0L260.0,1279.0L261.2,1465.0L215.5,1465.0ZM234.0,1279.0L240.9,1279.0L237.5,1390.6Z"/>
<path fill="#27ff00" d="M278.3,1093.0L491.0,1093.0L494.2,1279.0L278.3,1279.0ZM1300.6,1093.0L1476.0,1093.0L1476.9,1279.0L1297.2,1279.0ZM1949.1,1093.0L1994.8,1093.0L1994.3,1279.0L1948.0,1279.0ZM2010.4,1093.0L2141.5,1093.0L2141.5,1279.0L2009.2,1279.0ZM218.8,1167.4L222.2,1279.0L215.5,1279.0ZM1232.1,1167.4L1243.8,1279.0L1220.5,1279.0ZM215.5,1279.0L222.2,1279.0L223.1,1465.0L215.5,1465.0ZM278.3,1279.0L494.2,1279.0L497.2,1465.0L278.3,1465.0ZM1220.5,1279.0L1243.8,1279.0L1246.0,1465.0L1212.7,1465.0ZM1297.2,1279.0L1476.9,1279.0L1476.9,1465.0L1294.4,1465.0ZM1948.0,1279.0L1994.3,1279.0L1994.0,1465.0L1945.8,1465.0ZM2009.2,1279.0L2141.5,1279.0L2141.5,1465.0L2008.1,1465.0ZM215.5,1465.0L223.1,1465.0L223.1,1651.0L215.5,1651.0ZM278.3,1465.0L497.2,1465.0L500.9,1651.0L278.3,1651.0ZM1212.7,1465.0L1246.0,1465.0L1245.3,1651.0L1205.6,1651.0ZM1294.4,1465.0L1476.9,1465.0L1479.0,1651.0L1291.4,1651.0ZM1945.8,1465.0L1994.0,1465.0L1991.8,1651.0L1943.1,1651.0ZM2008.1,1465.0L2141.5,1465.0L2141.5,1651.0L2007.1,1651.0ZM215.5,1651.0L223.1,1651.0L223.1,1837.0L215.5,1837.0ZM278.3,1651.0L500.9,1651.0L503.9,1837.0L279.0,1837.0ZM1205.6,1651.0L1245.3,1651.0L1243.5,1837.0L1199.7,1837.0ZM1291.4,1651.0L1479.0,1651.0L1479.5,1837.0L1288.7,1837.0ZM1943.1,1651.0L1991.8,1651.0L1991.8,1837.0L1940.9,1837.0ZM2007.1,1651.0L2141.5,1651.0L2141.5,1837.0L2005.2,1837.0ZM252.3,1725.4L254.5,1837.0L250.1,1837.0ZM1542.7,1725.4L1551.6,1837.0L1533.8,1837.0Z"/>
<path fill="#76ff00" d="M284.2,1093.0L474.9,1093.0L479.8,1279.0L284.2,1279.0ZM1308.0,1093.0L1468.0,1093.0L1468.8,1279.0L1304.8,1279.0ZM1961.1,1093.0L1986.2,1093.0L1985.1,1279.0L1959.6,1279.0ZM2015.1,1093.0L2141.5,1093.0L2141.5,1279.0L2014.1,1279.0ZM284.2,1279.0L479.8,1279.0L483.1,1465.0L284.2,1465.0ZM1304.8,1279.0L1468.8,1279.0L1468.8,1465.0L1301.8,1465.0ZM1959.6,1279.0L1985.1,1279.0L1985.9,1465.0L1957.7,1465.0ZM2014.1,1279.0L2141.5,1279.0L2141.5,1465.0L2013.0,1465.0ZM284.2,1465.0L483.1,1465.0L486.1,1651.0L284.2,1651.0ZM1301.8,1465.0L1468.8,1465.0L1470.1,1651.0L1298.4,1651.0ZM1957.7,1465.0L1985.9,1465.0L1982.9,1651.0L1954.7,1651.0ZM2013.0,1465.0L2141.5,1465.0L2141.5,1651.0L2011.9,1651.0ZM284.2,1651.0L486.1,1651.0L489.0,1837.0L284.2,1837.0ZM1298.4,1651.0L1470.1,1651.0L1471.0,1837.0L1296.2,1837.0ZM1954.7,1651.0L1982.9,1651.0L1984.0,1837.0L1953.2,1837.0ZM2011.9,1651.0L2141.5,1651.0L2141.5,1837.0L2010.1,1837.0Z"/>
<path fill="#c4ff00" d="M297.1,1093.0L456.8,1093.0L462.0,1279.0L295.0,1279.0ZM1318.9,1093.0L1456.0,1093.0L1458.2,1279.0L1315.5,1279.0ZM2020.0,1093.0L2136.5,1093.0L2136.8,1279.0L2019.0,1279.0ZM295.0,1279.0L462.0,1279.0L465.0,1465.0L293.9,1465.0ZM1315.5,1279.0L1458.2,1279.0L1458.2,1465.0L1312.2,1465.0ZM2019.0,1279.0L2136.8,1279.0L2137.2,1465.0L2017.8,1465.0ZM293.9,1465.0L465.0,1465.0L468.3,1651.0L293.1,1651.0ZM1312.2,1465.0L1458.2,1465.0L1458.2,1651.0L1309.5,1651.0ZM2017.8,1465.0L2137.2,1465.0L2137.5,1651.0L2017.1,1651.0ZM293.1,1651.0L468.3,1651.0L471.2,1837.0L292.8,1837.0ZM1309.5,1651.0L1458.2,1651.0L1458.7,1837.0L1306.8,1837.0ZM2017.1,1651.0L2137.5,1651.0L2137.7,1837.0L2015.6,1837.0Z"/>
<path fill="#ffeb00" d="M335.4,1093.0L433.1,1093.0L437.8,1279.0L333.9,1279.0ZM1334.7,1093.0L1439.1,1093.0L1441.2,1279.0L1331.0,1279.0ZM2027.0,1093.0L2131.0,1093.0L2131.5,1279.0L2026.0,1279.0ZM333.9,1279.0L437.8,1279.0L441.1,1465.0L332.9,1465.0ZM1331.0,1279.0L1441.2,1279.0L1441.6,1465.0L1328.1,1465.0ZM2026.0,1279.0L2131.5,1279.0L2132.0,1465.0L2025.2,1465.0ZM332.9,1465.0L441.1,1465.0L445.3,1651.0L332.9,1651.0ZM1328.1,1465.0L1441.6,1465.0L1442.1,1651.0L1325.4,1651.0ZM2025.2,1465.0L2132.0,1465.0L2132.7,1651.0L2024.0,1651.0ZM332.9,1651.0L445.3,1651.0L449.0,1837.0L332.9,1837.0ZM1325.4,1651.0L1442.1,1651.0L1442.4,1837.0L1322.9,1837.0ZM2024.0,1651.0L2132.7,1651.0L2133.3,1837.0L2023.0,1837.0Z"/>
<path fill="#ff9d00" d="M1364.0,1093.0L1407.9,1093.0L1410.0,1279.0L1360.0,1279.0ZM2037.1,1093.0L2122.0,1093.0L2122.0,1279.0L2036.0,1279.0ZM1360.0,1279.0L1410.0,1279.0L1410.0,1465.0L1357.3,1465.0ZM2036.0,1279.0L2122.0,1279.0L2123.2,1465.0L2034.9,1465.0ZM1357.3,1465.0L1410.0,1465.0L1410.0,1651.0L1355.5,1651.0ZM2034.9,1465.0L2123.2,1465.0L2123.9,1651.0L2034.1,1651.0ZM1355.5,1651.0L1410.0,1651.0L1410.7,1837.0L1353.3,1837.0ZM2034.1,1651.0L2123.9,1651.0L2124.7,1837.0L2032.6,1837.0Z"/>
<path fill="#ff4e00" d="M2052.7,1093.0L2108.0,1093.0L2108.3,1279.0L2051.2,1279.0ZM2051.2,1279.0L2108.3,1279.0L2108.8,1465.0L2050.7,1465.0ZM2050.7,1465.0L2108.8,1465.0L2110.1,1651.0L2049.3,1651.0ZM2049.3,1651.0L2110.1,1651.0L2111.0,1837.0L2047.9,1837.0Z"/>
<path fill="#009dff" d="M780.8,1093.0L789.7,1093.0L785.3,1204.6Z"/>
<clipPath id="sg1_0"><rect x="575" y="1093.0" width="430" height="744.4000000000001"/></clipPath>
<g clip-path="url(#sg1_0)">
<rect x="575" y="1093.0" width="430" height="744.4000000000001" fill="#00ebff"/>
<path fill="#00ffc4" d="M575.0,1093.0L633.9,1093.0L637.4,1186.0L575.0,1186.0ZM686.6,1093.0L764.2,1093.0L763.5,1186.0L685.1,1186.0ZM855.9,1093.0L892.0,1093.0L892.1,1186.0L852.2,1186.0ZM983.1,1093.0L1005.0,1093.0L1005.0,1186.0L978.3,1186.0ZM575.0,1186.0L637.4,1186.0L640.1,1279.0L575.0,1279.0ZM685.1,1186.0L763.5,1186.0L769.0,1279.0L687.3,1279.0ZM852.2,1186.0L892.1,1186.0L898.2,1279.0L855.9,1279.0ZM978.3,1186.0L1005.0,1186.0L1005.0,1279.0L977.6,1279.0ZM575.0,1279.0L640.1,1279.0L644.8,1372.0L575.0,1372.0ZM687.3,1279.0L769.0,1279.0L773.4,1372.0L685.7,1372.0ZM855.9,1279.0L898.2,1279.0L902.1,1372.0L851.2,1372.0ZM977.6,1279.0L1005.0,1279.0L1005.0,1372.0L977.5,1372.0ZM842.8,1316.2L844.2,1372.0L841.3,1372.0ZM575.0,1372.0L644.8,1372.0L652.4,1465.0L575.0,1465.0ZM685.7,1372.0L773.4,1372.0L774.6,1465.0L693.3,1465.0ZM977.5,1372.0L1005.0,1372.0L1005.0,1465.0L972.0,1465.0ZM780.4,1409.2L782.6,1465.0L778.2,1465.0ZM944.6,1409.2L947.2,1465.0L942.0,1465.0ZM575.0,1465.0L652.4,1465.0L654.8,1558.0L575.0,1558.0ZM839.5,1465.0L907.9,1465.0L914.1,1558.0L852.2,1558.0ZM942.0,1465.0L947.2,1465.0L956.9,1558.0L944.0,1558.0ZM972.0,1465.0L1005.0,1465.0L1005.0,1558.0L961.9,1558.0ZM575.0,1558.0L654.8,1558.0L655.4,1651.0L575.0,1651.0ZM685.7,1558.0L777.4,1558.0L791.2,1651.0L688.8,1651.0ZM852.2,1558.0L914.1,1558.0L916.3,1651.0L843.9,1651.0ZM944.0,1558.0L956.9,1558.0L956.6,1651.0L942.3,1651.0ZM961.9,1558.0L1005.0,1558.0L1005.0,1651.0L963.5,1651.0ZM575.0,1651.0L655.4,1651.0L658.8,1744.0L575.0,1744.0ZM688.8,1651.0L791.2,1651.0L810.3,1744.0L685.7,1744.0ZM843.9,1651.0L916.3,1651.0L919.0,1744.0L839.3,1744.0ZM818.3,1688.2L821.3,1744.0L815.3,1744.0ZM575.0,1744.0L658.8,1744.0L659.1,1837.0L575.0,1837.0ZM839.3,1744.0L919.0,1744.0L927.2,1837.0L839.9,1837.0ZM931.0,1744.0L1005.0,1744.0L1005.0,1837.0L935.3,1837.0Z"/>
<path fill="#00ffc4" fill-rule="evenodd" d="M841.3,1372.0L902.1,1372.0L907.9,1465.0L839.5,1465.0ZM844.2,1372.0L851.2,1372.0L847.7,1427.8Z"/>
<path fill="#00ffc4" fill-rule="evenodd" d="M693.3,1465.0L782.6,1465.0L777.4,1558.0L685.7,1558.0ZM774.6,1465.0L778.2,1465.0L776.4,1520.8Z"/>
<path fill="#00ffc4" fill-rule="evenodd" d="M942.3,1651.0L1005.0,1651.0L1005.0,1744.0L931.0,1744.0ZM956.6,1651.0L963.5,1651.0L960.1,1706.8Z"/>
<path fill="#00ffc4" fill-rule="evenodd" d="M685.7,1744.0L821.3,1744.0L826.1,1837.0L688.8,1837.0ZM810.3,1744.0L815.3,1744.0L812.8,1799.8Z"/>
<path fill="#00ff76" d="M575.0,1093.0L621.3,1093.0L626.5,1186.0L575.0,1186.0ZM575.0,1186.0L626.5,1186.0L629.1,1279.0L575.0,1279.0ZM575.0,1279.0L629.1,1279.0L632.8,1372.0L575.0,1372.0ZM575.0,1372.0L632.8,1372.0L634.3,1465.0L575.0,1465.0ZM741.9,1409.2L746.7,1465.0L737.1,1465.0ZM575.0,1465.0L634.3,1465.0L637.8,1558.0L575.0,1558.0ZM737.1,1465.0L746.7,1465.0L750.5,1558.0L722.6,1558.0ZM575.0,1558.0L637.8,1558.0L642.1,1651.0L575.0,1651.0ZM722.6,1558.0L750.5,1558.0L759.0,1651.0L725.9,1651.0ZM575.0,1651.0L642.1,1651.0L645.8,1744.0L575.0,1744.0ZM725.9,1651.0L759.0,1651.0L764.9,1744.0L723.6,1744.0ZM575.0,1744.0L645.8,1744.0L648.0,1837.0L575.0,1837.0ZM723.6,1744.0L764.9,1744.0L771.9,1837.0L729.6,1837.0Z"/>
<path fill="#00ff27" d="M575.0,1093.0L595.3,1093.0L600.9,1186.0L575.0,1186.0ZM575.0,1186.0L600.9,1186.0L603.0,1279.0L575.0,1279.0ZM575.0,1279.0L603.0,1279.0L607.9,1372.0L575.0,1372.0ZM575.0,1372.0L607.9,1372.0L610.9,1465.0L575.0,1465.0ZM575.0,1465.0L610.9,1465.0L612.9,1558.0L575.0,1558.0ZM575.0,1558.0L612.9,1558.0L617.6,1651.0L575.0,1651.0ZM575.0,1651.0L617.6,1651.0L623.9,1744.0L575.0,1744.0ZM575.0,1744.0L623.9,1744.0L628.7,1837.0L575.0,1837.0Z"/>
<path fill="#009dff" d="M780.8,1093.0L789.7,1093.0L785.3,1148.8Z"/>
</g>

</g>
<path d="M215.5,1091.0V1839.9" stroke="#000" stroke-width="5" fill="none"/>
<path d="M213.0,1837.4H2143.5" stroke="#000" stroke-width="5" fill="none"/>
<path d="M215.5,1093.50h19.5M215.5,1242.28h19.5M215.5,1391.06h19.5M215.5,1539.84h19.5M215.5,1688.62h19.5M215.5,1837.40h19.5M215.50,1837.4v-19.5M375.96,1837.4v-19.5M536.42,1837.4v-19.5M696.88,1837.4v-19.5M857.33,1837.4v-19.5M1017.79,1837.4v-19.5M1178.25,1837.4v-19.5M1338.71,1837.4v-19.5M1499.17,1837.4v-19.5M1659.62,1837.4v-19.5M1820.08,1837.4v-19.5M1980.54,1837.4v-19.5M2141.00,1837.4v-19.5" stroke="#000" stroke-width="5" fill="none"/>
<path d="M215.5,1130.69h12.5M215.5,1167.89h12.5M215.5,1205.09h12.5M215.5,1279.47h12.5M215.5,1316.67h12.5M215.5,1353.87h12.5M215.5,1428.26h12.5M215.5,1465.45h12.5M215.5,1502.64h12.5M215.5,1577.04h12.5M215.5,1614.23h12.5M215.5,1651.43h12.5M215.5,1725.82h12.5M215.5,1763.01h12.5M215.5,1800.21h12.5M247.59,1837.4v-12M279.68,1837.4v-12M311.77,1837.4v-12M343.87,1837.4v-12M408.05,1837.4v-12M440.14,1837.4v-12M472.23,1837.4v-12M504.32,1837.4v-12M568.51,1837.4v-12M600.60,1837.4v-12M632.69,1837.4v-12M664.78,1837.4v-12M728.97,1837.4v-12M761.06,1837.4v-12M793.15,1837.4v-12M825.24,1837.4v-12M889.42,1837.4v-12M921.52,1837.4v-12M953.61,1837.4v-12M985.70,1837.4v-12M1049.88,1837.4v-12M1081.97,1837.4v-12M1114.07,1837.4v-12M1146.16,1837.4v-12M1210.34,1837.4v-12M1242.43,1837.4v-12M1274.53,1837.4v-12M1306.62,1837.4v-12M1370.80,1837.4v-12M1402.89,1837.4v-12M1434.98,1837.4v-12M1467.08,1837.4v-12M1531.26,1837.4v-12M1563.35,1837.4v-12M1595.44,1837.4v-12M1627.53,1837.4v-12M1691.72,1837.4v-12M1723.81,1837.4v-12M1755.90,1837.4v-12M1787.99,1837.4v-12M1852.17,1837.4v-12M1884.27,1837.4v-12M1916.36,1837.4v-12M1948.45,1837.4v-12M2012.63,1837.4v-12M2044.72,1837.4v-12M2076.82,1837.4v-12M2108.91,1837.4v-12" stroke="#000" stroke-width="1.35" fill="none"/>
<text class="t" transform="translate(188.3,1110.5) scale(0.975,1.04)" text-anchor="end">-10</text>
<text class="t" transform="translate(188.3,1259.3) scale(0.975,1.04)" text-anchor="end">-12</text>
<text class="t" transform="translate(188.3,1408.1) scale(0.975,1.04)" text-anchor="end">-14</text>
<text class="t" transform="translate(188.3,1556.8) scale(0.975,1.04)" text-anchor="end">-16</text>
<text class="t" transform="translate(188.3,1705.6) scale(0.975,1.04)" text-anchor="end">-18</text>
<text class="t" transform="translate(188.3,1854.4) scale(0.975,1.04)" text-anchor="end">-20</text>
<text class="t" transform="translate(215.5,1880.8) scale(0.97,1.04)" text-anchor="middle">0</text>
<text class="t" transform="translate(376.0,1880.8) scale(0.97,1.04)" text-anchor="middle">5</text>
<text class="t" transform="translate(536.4,1880.8) scale(0.97,1.04)" text-anchor="middle">10</text>
<text class="t" transform="translate(696.9,1880.8) scale(0.97,1.04)" text-anchor="middle">15</text>
<text class="t" transform="translate(857.3,1880.8) scale(0.97,1.04)" text-anchor="middle">20</text>
<text class="t" transform="translate(1017.8,1880.8) scale(0.97,1.04)" text-anchor="middle">25</text>
<text class="t" transform="translate(1178.2,1880.8) scale(0.97,1.04)" text-anchor="middle">30</text>
<text class="t" transform="translate(1338.7,1880.8) scale(0.97,1.04)" text-anchor="middle">35</text>
<text class="t" transform="translate(1499.2,1880.8) scale(0.97,1.04)" text-anchor="middle">40</text>
<text class="t" transform="translate(1659.6,1880.8) scale(0.97,1.04)" text-anchor="middle">45</text>
<text class="t" transform="translate(1820.1,1880.8) scale(0.97,1.04)" text-anchor="middle">50</text>
<text class="t" transform="translate(1980.5,1880.8) scale(0.97,1.04)" text-anchor="middle">55</text>
<text class="t" transform="translate(2139.0,1880.8) scale(0.97,1.04)" text-anchor="middle">60</text>
<text class="b" transform="translate(1179.3,1933.2) scale(1.0,1.0)" text-anchor="middle">BEARING</text>
<text class="e" transform="translate(62.3,1464.5) rotate(-90)" text-anchor="middle">ELEVATION</text>
<text class="h" transform="translate(1166.3,1058.3) scale(1.0,1.0)" text-anchor="middle">Optimal Shape</text>
<rect x="2168.5" y="1067.50" width="80.0" height="31.80" fill="#ff0000"/>
<rect x="2168.5" y="1099.30" width="80.0" height="63.85" fill="#ff4e00"/>
<rect x="2168.5" y="1163.15" width="80.0" height="63.85" fill="#ff9d00"/>
<rect x="2168.5" y="1227.00" width="80.0" height="63.85" fill="#ffeb00"/>
<rect x="2168.5" y="1290.85" width="80.0" height="63.85" fill="#c4ff00"/>
<rect x="2168.5" y="1354.70" width="80.0" height="63.85" fill="#76ff00"/>
<rect x="2168.5" y="1418.55" width="80.0" height="63.85" fill="#27ff00"/>
<rect x="2168.5" y="1482.40" width="80.0" height="63.85" fill="#00ff27"/>
<rect x="2168.5" y="1546.25" width="80.0" height="63.85" fill="#00ff76"/>
<rect x="2168.5" y="1610.10" width="80.0" height="63.85" fill="#00ffc4"/>
<rect x="2168.5" y="1673.95" width="80.0" height="63.85" fill="#00ebff"/>
<rect x="2168.5" y="1737.80" width="80.0" height="63.85" fill="#009dff"/>
<rect x="2168.5" y="1801.65" width="80.0" height="63.85" fill="#004eff"/>
<rect x="2168.5" y="1865.50" width="80.0" height="32.00" fill="#0000ff"/>
<path d="M2168.5,1099.30H2248.5M2168.5,1163.15H2248.5M2168.5,1227.00H2248.5M2168.5,1290.85H2248.5M2168.5,1354.70H2248.5M2168.5,1418.55H2248.5M2168.5,1482.40H2248.5M2168.5,1546.25H2248.5M2168.5,1610.10H2248.5M2168.5,1673.95H2248.5M2168.5,1737.80H2248.5M2168.5,1801.65H2248.5M2168.5,1865.50H2248.5" stroke="#000" stroke-width="1.3" fill="none"/>
<rect x="2168.5" y="1067.50" width="80.0" height="830.00" fill="none" stroke="#000" stroke-width="1.3"/>
<text class="c" transform="translate(2288.0,1126.1) scale(1.0,1.05)" text-anchor="start">7</text>
<text class="c" transform="translate(2288.0,1189.9) scale(1.0,1.05)" text-anchor="start">3.5</text>
<text class="c" transform="translate(2288.0,1253.8) scale(1.0,1.05)" text-anchor="start">0</text>
<text class="c" transform="translate(2272.5,1317.6) scale(1.0,1.05)" text-anchor="start">-3.5</text>
<text class="c" transform="translate(2272.5,1381.5) scale(1.0,1.05)" text-anchor="start">-7</text>
<text class="c" transform="translate(2272.5,1445.3) scale(1.0,1.05)" text-anchor="start">-10.5</text>
<text class="c" transform="translate(2272.5,1509.2) scale(1.0,1.05)" text-anchor="start">-14</text>
<text class="c" transform="translate(2272.5,1573.0) scale(1.0,1.05)" text-anchor="start">-17.5</text>
<text class="c" transform="translate(2272.5,1636.9) scale(1.0,1.05)" text-anchor="start">-21</text>
<text class="c" transform="translate(2272.5,1700.7) scale(1.0,1.05)" text-anchor="start">-24.5</text>
<text class="c" transform="translate(2272.5,1764.6) scale(1.0,1.05)" text-anchor="start">-28</text>
<text class="c" transform="translate(2272.5,1828.5) scale(1.0,1.05)" text-anchor="start">-31.5</text>
<text class="c" transform="translate(2272.5,1892.3) scale(1.0,1.05)" text-anchor="start">-35</text>
<text class="r" transform="translate(2303.5,1052.9) scale(0.97,1.05)" text-anchor="start">RCS</text>
</g>
</svg></body></html>
